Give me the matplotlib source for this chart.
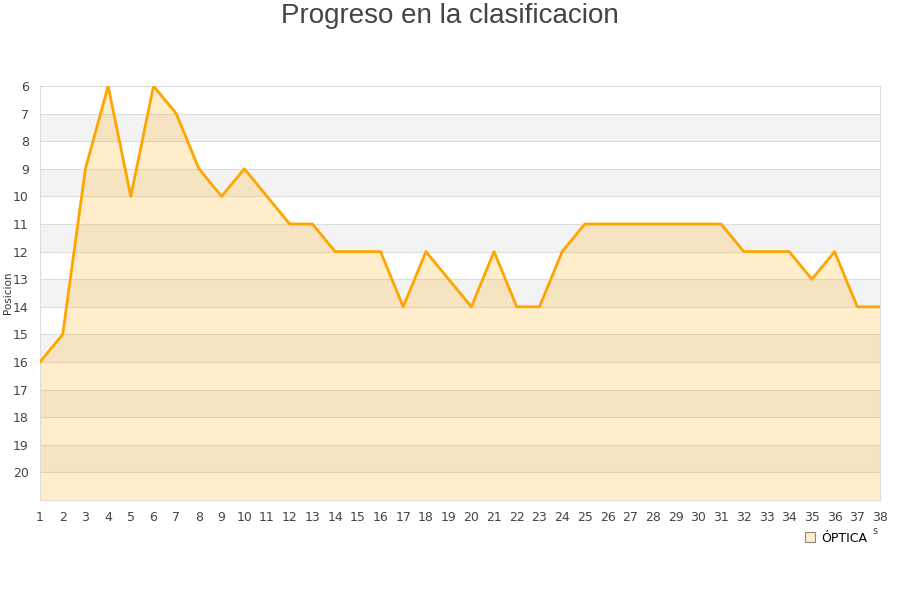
import matplotlib
matplotlib.use("Agg")
import matplotlib.pyplot as plt
from matplotlib.lines import Line2D

jornadas = list(range(1, 39))
posiciones = [16, 15, 9, 6, 10, 6, 7, 9, 10, 9, 10, 11, 11, 12, 12, 12, 14, 12, 13, 14,
              12, 14, 14, 12, 11, 11, 11, 11, 11, 11, 11, 12, 12, 12, 13, 12, 14, 14]
y_ticks = list(range(6, 21))
equipo = "ÓPTICA"
titulo = "Progreso en la clasificacion"

fig = plt.figure(figsize=(9, 6), dpi=100)
ax = fig.add_axes([40/900, 1 - 500/600, 840/900, 414/600])

ax.set_xlim(1, 38)
ax.set_ylim(21, 6)

# alternating bands
for y0 in range(7, 21, 2):
    ax.axhspan(y0, y0 + 1, color="#f3f3f3", zorder=0, lw=0)
for y in range(7, 21):
    ax.axhline(y, color="#dddddd", lw=0.8, zorder=1)

ax.fill_between(jornadas, posiciones, 21, color="#ffa500", alpha=0.2, lw=0, zorder=2)
ax.plot(jornadas, posiciones, color="#ffa500", lw=2, zorder=3)

ax.set_yticks(y_ticks)
ax.set_xticks(jornadas)
ax.tick_params(axis="both", length=0, labelsize=9, colors="#444444")
ax.tick_params(axis="x", pad=8)
ax.tick_params(axis="y", pad=8)
for sp in ax.spines.values():
    sp.set_color("#dddddd")

fig.text(8/900, 1 - 293/600, "Posicion", rotation=90, ha="center", va="center",
         fontsize=7.5, color="#333333")

fig.text(0.5, 1 - 16/600, titulo, ha="center", va="center", fontsize=20,
         color="#444444", family="Liberation Sans")

fig.text(875/900, 1 - 531/600, "s", ha="center", va="center", fontsize=7, color="#444444")

handle = Line2D([], [], marker="s", linestyle="none", markersize=7,
                markerfacecolor="#ffecc8", markeredgecolor="#888888", markeredgewidth=0.8)
fig.legend([handle], [equipo], loc="center", bbox_to_anchor=(835/900, 1 - 538/600),
           frameon=False, fontsize=9, handletextpad=0.4, handlelength=1)

fig.savefig("out.png", dpi=100)
